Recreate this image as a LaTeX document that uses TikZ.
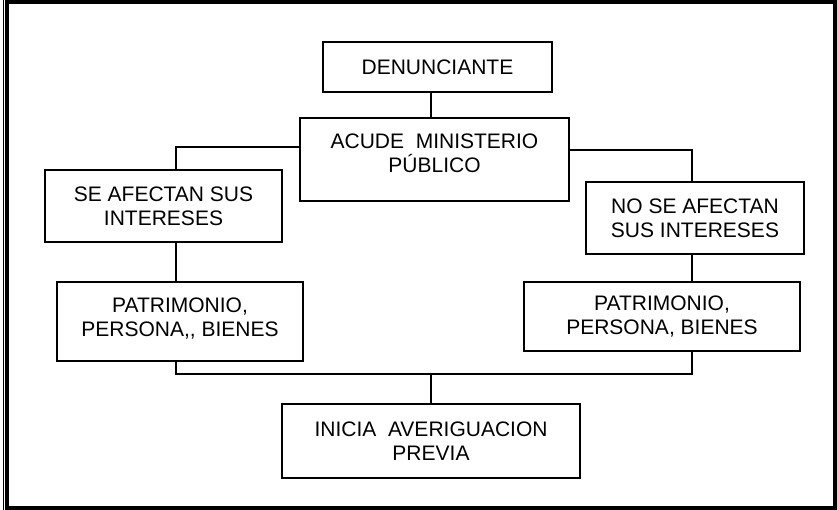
\documentclass[tikz,border=0pt]{standalone}
\usepackage{fontspec}
\setmainfont{Liberation Sans}
\usetikzlibrary{calc}
\definecolor{cink}{HTML}{000000}

\begin{document}
\begin{tikzpicture}[
    x=1pt, y=-1pt,
    box/.style={draw=cink, line width=1.8pt, align=center, inner sep=0pt,
                font=\fontsize{21}{24}\selectfont, text=cink},
    link/.style={draw=cink, line width=1.8pt},
    frm/.style={draw=cink, line width=3.6pt},
  ]
  \useasboundingbox (0,0) rectangle (837,510);
  % page frame
  \draw[frm] (7,1.8) rectangle (835.2,508.2);
  \draw[draw=cink, line width=1.2pt] (3.5,0) -- (3.5,510);

  \coordinate (colL) at (176,0);
  \coordinate (colR) at (692,0);
  \coordinate (join) at (431,374);

  \node[box, minimum width=229pt, minimum height=50pt] (den) at (437.5,67) {DENUNCIANTE};
  \node[box, minimum width=269pt, minimum height=83pt] (acude) at (434.5,159.5)
       {ACUDE\ \ MINISTERIO\\PÚBLICO\\[-12pt]{}};
  \node[box, minimum width=237pt, minimum height=72pt] (seaf) at (163.5,206)
       {SE AFECTAN SUS\\INTERESES};
  \node[box, minimum width=218pt, minimum height=72pt] (noaf) at (695,218)
       {NO SE AFECTAN\\SUS INTERESES};
  \node[box, minimum width=246pt, minimum height=79pt] (patl) at (180,321.5)
       {PATRIMONIO,\\PERSONA,\kern0pt, BIENES\\[-16pt]{}};
  \node[box, minimum width=276pt, minimum height=69pt] (patr) at (662,316.5)
       {PATRIMONIO,\\PERSONA, BIENES};
  \node[box, minimum width=298pt, minimum height=74pt] (inicia) at (431,441)
       {INICIA\ \ AVERIGUACION\\PREVIA};

  \draw[link] (den.south -| join) -- (acude.north -| join);
  \draw[link] ($(acude.west)+(0,-12.5)$) -| (seaf.north -| colL);
  \draw[link] ($(acude.east)+(0,-9.5)$) -| (noaf.north -| colR);
  \draw[link] (seaf.south -| colL) -- (patl.north -| colL);
  \draw[link] (noaf.south -| colR) -- (patr.north -| colR);
  \draw[link] (patl.south -| colL) |- (join) -| (patr.south -| colR);
  \draw[link] (join) -- (inicia.north -| join);
\end{tikzpicture}
\end{document}
